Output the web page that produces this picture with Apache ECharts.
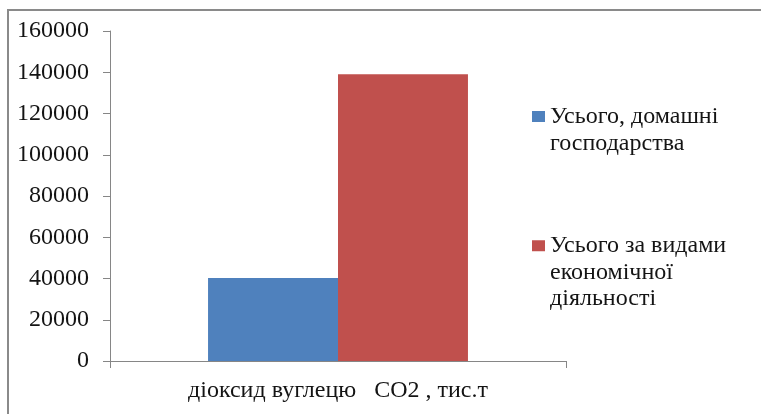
<!DOCTYPE html>
<html>
<head>
<meta charset="utf-8">
<script src="https://cdn.jsdelivr.net/npm/echarts@6/dist/echarts.min.js"></script>
<style>
  html, body { margin: 0; padding: 0; background: #ffffff; overflow: hidden; }
  #wrap { position: relative; width: 761px; height: 414px; overflow: hidden; background: #ffffff; }
  #frame { position: absolute; left: 7px; top: 9px; width: 754px; height: 405px;
           border-top: 2px solid #8a8a8a; border-left: 2px solid #8a8a8a; box-sizing: border-box; }
  #chart { position: absolute; left: 0; top: 0; width: 761px; height: 414px; }
</style>
</head>
<body>
<div id="wrap">
  <div id="frame"></div>
  <div id="chart"></div>
</div>
<script>
// Emissions of carbon dioxide, thousand tonnes
const categories = ['діоксид вуглецю   CO2 , тис.т'];
const seriesNames = ['Усього, домашні господарства', 'Усього за видами економічної діяльності'];
const legendLines = [
  ['Усього, домашні', 'господарства'],
  ['Усього за видами', 'економічної', 'діяльності']
];
const households = [40200];
const economicActivity = [139000];
const yMin = 0, yMax = 160000, yStep = 20000;

const FONT = '"Liberation Serif", "Times New Roman", serif';
const FS = 24;
const TEXT = '#141414';
const AXIS = '#868686';
const colors = ['#4F81BD', '#C0504D'];

const chart = echarts.init(document.getElementById('chart'), null, { renderer: 'canvas' });

// Legend text is centred on its marker, so blank lines are put above the
// wrapped label to keep the marker beside the first line.
function legendFor(idx, top, lineH) {
  const lines = legendLines[idx];
  const pad = new Array(lines.length - 1).fill('');
  return {
    left: 532,
    top: top,
    orient: 'vertical',
    padding: 0,
    itemWidth: 13,
    itemHeight: 11,
    itemGap: 0,
    selectedMode: false,
    icon: 'rect',
    data: [seriesNames[idx]],
    formatter: () => pad.concat(lines).join('\n'),
    textStyle: {
      fontFamily: FONT,
      fontSize: FS,
      color: TEXT,
      lineHeight: lineH
    }
  };
}

chart.setOption({
  animation: false,
  backgroundColor: 'transparent',
  grid: { left: 110, right: 195, top: 31, bottom: 53, containLabel: false },
  legend: [
    legendFor(0, 76, 27),
    legendFor(1, 179.5, 26.5)
  ],
  xAxis: {
    type: 'category',
    data: categories,
    boundaryGap: true,
    axisLine: { show: true, lineStyle: { color: AXIS, width: 1 } },
    axisTick: { show: true, length: 7, lineStyle: { color: AXIS } },
    axisLabel: { margin: 17.5, fontFamily: FONT, fontSize: FS, color: TEXT }
  },
  yAxis: {
    type: 'value',
    min: yMin,
    max: yMax,
    interval: yStep,
    axisLine: { show: true, lineStyle: { color: AXIS, width: 1 } },
    axisTick: { show: true, length: 7, lineStyle: { color: AXIS } },
    splitLine: { show: false },
    axisLabel: {
      margin: 21,
      fontFamily: FONT,
      fontSize: FS,
      color: TEXT,
      formatter: (v) => String(v)
    }
  },
  series: [
    {
      name: seriesNames[0],
      type: 'bar',
      data: households,
      itemStyle: { color: colors[0] },
      barGap: '0%',
      barCategoryGap: '43%'
    },
    {
      name: seriesNames[1],
      type: 'bar',
      data: economicActivity,
      itemStyle: { color: colors[1] },
      barGap: '0%',
      barCategoryGap: '43%'
    }
  ]
});
</script>
</body>
</html>
